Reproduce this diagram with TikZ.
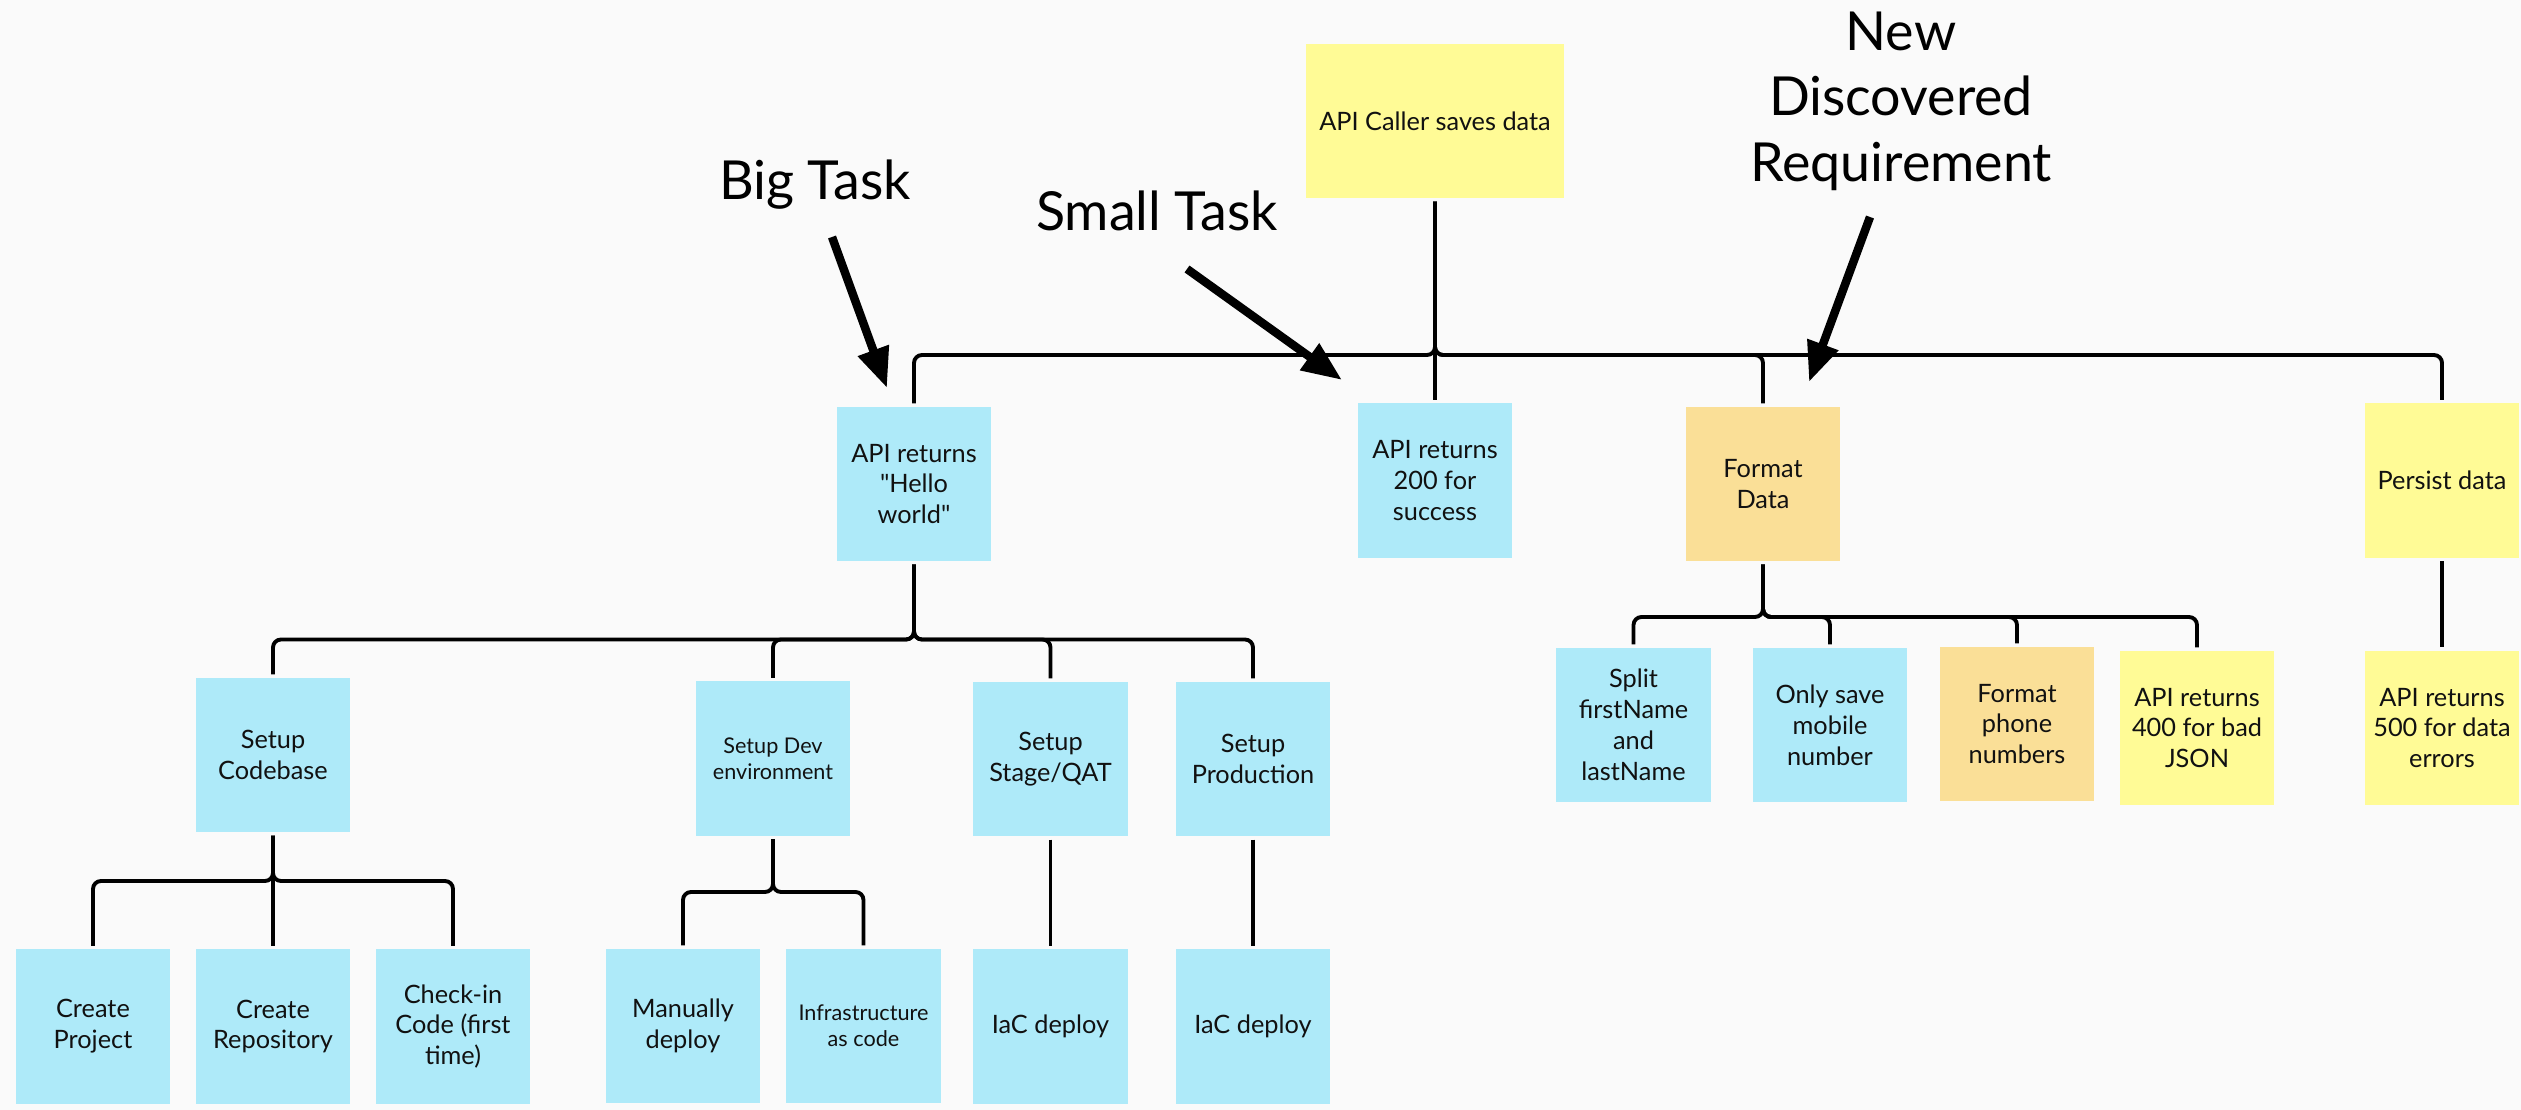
\documentclass[tikz,border=0pt]{standalone}
\usepackage{fontspec}
\setmainfont{Lato}[Ligatures=TeXOff]
\usetikzlibrary{arrows.meta}
\definecolor{bgcol}{HTML}{FAFAFA}
\definecolor{cardblue}{HTML}{AEEAF9}
\definecolor{cardyellow}{HTML}{FFFB96}
\definecolor{cardorange}{HTML}{FADF97}
\definecolor{inkcol}{HTML}{111111}
\begin{document}
\begin{tikzpicture}[x=0.01cm,y=-0.01cm,
  card/.style={minimum width=1.54cm,minimum height=1.54cm,inner sep=0pt,
    outer sep=0.035cm,align=center,text=inkcol,
    font=\fontsize{7.2}{8.8}\selectfont},
  bluecard/.style={card,fill=cardblue},
  yellowcard/.style={card,fill=cardyellow},
  orangecard/.style={card,fill=cardorange},
  smalltext/.style={font=\fontsize{6.15}{7.3}\selectfont},
  link/.style={line width=1.1pt,rounded corners=0.08cm,draw=black},
  pointer/.style={line width=2.4pt,draw=black,
    -{Triangle[length=0.4cm,width=0.31cm]}},
  biglabel/.style={font=\fontsize{15.3}{18.64}\selectfont,align=center,
    inner sep=0pt,text=black}
]
\fill[bgcol] (0,0) rectangle (2521,1110);
\useasboundingbox (0,0) rectangle (2521,1110);

% cards
\node[yellowcard,minimum width=2.57cm] (caller) at (1435,121) {API Caller saves data};
\node[bluecard] (hello) at (914,484) {API returns\\"Hello\\world"};
\node[bluecard] (s200) at (1435,480.5) {API returns\\200 for\\success};
\node[orangecard] (fmt) at (1763,484) {Format\\Data};
\node[yellowcard] (persist) at (2442,480.5) {Persist data};
\node[bluecard] (codebase) at (273,755) {Setup\\Codebase};
\node[bluecard,smalltext] (devenv) at (773,758.5) {Setup Dev\\environment};
\node[bluecard] (stage) at (1050.5,759) {Setup\\Stage/QAT};
\node[bluecard] (prod) at (1253,759) {Setup\\Production};
\node[bluecard] (cproj) at (93,1026.5) {Create\\Project};
\node[bluecard] (crepo) at (273,1026.5) {Create\\Repository};
\node[bluecard] (checkin) at (453,1026.5) {Check-in\\Code (first\\time)};
\node[bluecard] (manual) at (683,1026) {Manually\\deploy};
\node[bluecard,smalltext] (infra) at (863.5,1026) {Infrastructure\\as code};
\node[bluecard] (iac1) at (1050.5,1026.5) {IaC deploy};
\node[bluecard] (iac2) at (1253,1026.5) {IaC deploy};
\node[bluecard] (split) at (1633.5,725) {Split\\firstName\\and\\lastName};
\node[bluecard] (mobile) at (1830,725) {Only save\\mobile\\number};
\node[orangecard] (phone) at (2017,724) {Format\\phone\\numbers};
\node[yellowcard] (api400) at (2197,728) {API returns\\400 for bad\\JSON};
\node[yellowcard] (api500) at (2442,728) {API returns\\500 for data\\errors};

% labels
\node[biglabel,anchor=base] (lbig) at (815,199.5) {Big Task};
\node[biglabel,anchor=base] (lsmall) at (1157,230.7) {Small Task};
\node[biglabel,anchor=center] (lnew) at (1901,101) {New\\Discovered\\Requirement};

% bar junctions
\coordinate (mainbar) at (1435,355);
\coordinate (hbar) at (914,639.5);
\coordinate (cbar) at (273,881);
\coordinate (dbar) at (773,892);
\coordinate (fbar) at (1763,617);

% connectors
\draw[link] (caller.south) -- (mainbar) -| (hello.north);
\draw[link] (caller.south) -- (s200.north);
\draw[link] (caller.south) -- (mainbar) -| (fmt.north);
\draw[link] (caller.south) -- (mainbar) -| (persist.north);

\draw[link] (hello.south) -- (hbar) -| (codebase.north);
\draw[link] (hello.south) -- (hbar) -| (devenv.north);
\draw[link] (hello.south) -- (hbar) -| (stage.north);
\draw[link] (hello.south) -- (hbar) -| (prod.north);

\draw[link] (codebase.south) -- (cbar) -| (cproj.north);
\draw[link] (codebase.south) -- (crepo.north);
\draw[link] (codebase.south) -- (cbar) -| (checkin.north);

\draw[link] (devenv.south) -- (dbar) -| (manual.north);
\draw[link] (devenv.south) -- (dbar) -| (infra.north);

\draw[link] (stage.south) -- (iac1.north);
\draw[link] (prod.south) -- (iac2.north);

\draw[link] (fmt.south) -- (fbar) -| (split.north);
\draw[link] (fmt.south) -- (fbar) -| (mobile.north);
\draw[link] (fmt.south) -- (fbar) -| (phone.north);
\draw[link] (fmt.south) -- (fbar) -| (api400.north);

\draw[link] (persist.south) -- (api500.north);

% pointer arrows
\coordinate (bigtail) at (832,237);
\coordinate (bigtip) at (887,388);
\coordinate (smalltail) at (1187,269);
\coordinate (smalltip) at (1342,380);
\coordinate (newtail) at (1870,217);
\coordinate (newtip) at (1809,382);
\draw[pointer] (bigtail) -- (bigtip);
\draw[pointer] (smalltail) -- (smalltip);
\draw[pointer] (newtail) -- (newtip);
\end{tikzpicture}
\end{document}
